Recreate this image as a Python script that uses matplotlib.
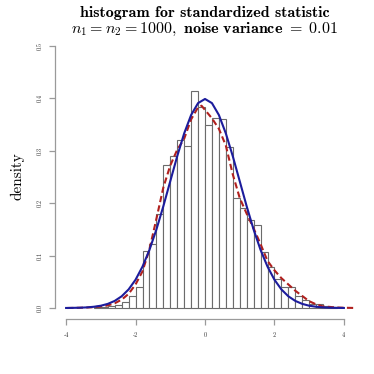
import matplotlib
matplotlib.use('Agg')
import matplotlib.pyplot as plt
import numpy as np

plt.rcParams.update({
    "mathtext.fontset": "cm",
    "axes.unicode_minus": False,
})

# ===== Data =====
bin_start = -3.2
bin_width = 0.2
hist_density = [0.001, 0.002, 0.003, 0.006, 0.012, 0.022, 0.041, 0.109, 0.122,
                0.179, 0.272, 0.291, 0.321, 0.310, 0.415, 0.384, 0.349, 0.362,
                0.360, 0.308, 0.209, 0.190, 0.168, 0.158, 0.107, 0.079, 0.055,
                0.040, 0.040, 0.022, 0.016, 0.007, 0.007, 0.003, 0.002]

# theoretical density (solid blue)
theory_x = [-4.0, -3.8, -3.6, -3.4, -3.2, -3.0, -2.8, -2.6, -2.4, -2.2, -2.0,
            -1.8, -1.6, -1.4, -1.2, -1.0, -0.8, -0.6, -0.4, -0.2, 0.0,
            0.2, 0.4, 0.6, 0.8, 1.0, 1.2, 1.4, 1.6, 1.8, 2.0,
            2.2, 2.4, 2.6, 2.8, 3.0, 3.2, 3.4, 3.6, 3.8, 4.0]
theory_y = [0.0001, 0.0003, 0.0006, 0.0012, 0.0024, 0.0044, 0.0079, 0.0136,
            0.0224, 0.0355, 0.0540, 0.0790, 0.1109, 0.1497, 0.1942, 0.2420,
            0.2897, 0.3332, 0.3683, 0.3910, 0.3989,
            0.3910, 0.3683, 0.3332, 0.2897, 0.2420, 0.1942, 0.1497, 0.1109,
            0.0790, 0.0540, 0.0355, 0.0224, 0.0136, 0.0079, 0.0044, 0.0024,
            0.0012, 0.0006, 0.0003, 0.0001]

# kernel density estimate (dashed red)
kde_x = [-3.97, -3.6, -3.2, -3.0, -2.8, -2.6, -2.4, -2.2, -2.0, -1.8, -1.6,
         -1.4, -1.2, -1.0, -0.8, -0.6, -0.4, -0.2, -0.1, 0.0, 0.2, 0.4, 0.6,
         0.8, 1.0, 1.2, 1.4, 1.6, 1.8, 2.0, 2.2, 2.4, 2.6, 2.8, 3.0, 3.2,
         3.4, 3.6, 3.8, 4.0, 4.4]
kde_y = [0.0, 0.0005, 0.0015, 0.003, 0.005, 0.009, 0.016, 0.027, 0.045, 0.070,
         0.112, 0.170, 0.230, 0.272, 0.302, 0.323, 0.360, 0.383, 0.386, 0.378,
         0.362, 0.342, 0.310, 0.255, 0.210, 0.180, 0.152, 0.122, 0.090, 0.072,
         0.057, 0.045, 0.033, 0.023, 0.013, 0.007, 0.003, 0.002, 0.001, 0.0005,
         0.0]

xticks = [-4, -2, 0, 2, 4]
xtick_labels = ['-4', '-2', '0', '2', '4']
yticks = [0.0, 0.1, 0.2, 0.3, 0.4, 0.5]
ytick_labels = ['0.0', '0.1', '0.2', '0.3', '0.4', '0.5']

C_BAR = '#6b6b6b'
C_AXIS = '#9a9a9a'
C_NORM = '#1c1c9c'
C_KDE = '#b0201e'

# ===== Figure =====
W = H = 374
fig = plt.figure(figsize=(W / 100, H / 100), dpi=100)
ax = fig.add_axes([55 / W, 1 - 318.5 / H, 300 / W, 283 / H])

edges = bin_start + bin_width * np.arange(len(hist_density))
ax.bar(edges, hist_density, width=bin_width, align='edge',
       facecolor='white', edgecolor=C_BAR, linewidth=0.8, zorder=1)

ax.plot(kde_x, kde_y, color=C_KDE, linewidth=1.5, linestyle=(0, (3, 1.6)),
        zorder=3)
ax.plot(theory_x, theory_y, color=C_NORM, linewidth=1.5, zorder=4)

ax.set_xlim(-4.32, 4.32)
ax.set_ylim(-0.02, 0.52)

for s in ['top', 'right']:
    ax.spines[s].set_visible(False)
ax.spines['bottom'].set_bounds(-4, 4)
ax.spines['left'].set_bounds(0, 0.5)
for s in ['bottom', 'left']:
    ax.spines[s].set_color(C_AXIS)
    ax.spines[s].set_linewidth(0.9)

ax.set_xticks(xticks)
ax.set_xticklabels(xtick_labels, family='cmr10', fontsize=4.5, color='#333333')
ax.set_yticks(yticks)
ax.set_yticklabels(ytick_labels, family='cmr10', fontsize=4.5, color='#333333',
                   rotation=90, va='center')
ax.tick_params(axis='both', length=4, width=0.9, color=C_AXIS)
ax.tick_params(axis='x', pad=6)
ax.tick_params(axis='y', pad=5)

# title centred over the plot region
tx = 205 / W
fig.text(tx, 1 - 17 / H, 'histogram for standardized statistic',
         family='cmb10', fontsize=11.5, ha='center', va='baseline')
fig.text(tx, 1 - 32.5 / H,
         r'$n_1 = n_2 = 1000$' + r'$\mathbf{,\ noise\ variance\ =\ 0.01}$',
         fontsize=11.5, ha='center', va='baseline')
fig.text(17 / W, 1 - 176 / H, 'density', family='cmr10', fontsize=11,
         rotation=90, ha='center', va='center')

fig.savefig('out.png', dpi=100)
